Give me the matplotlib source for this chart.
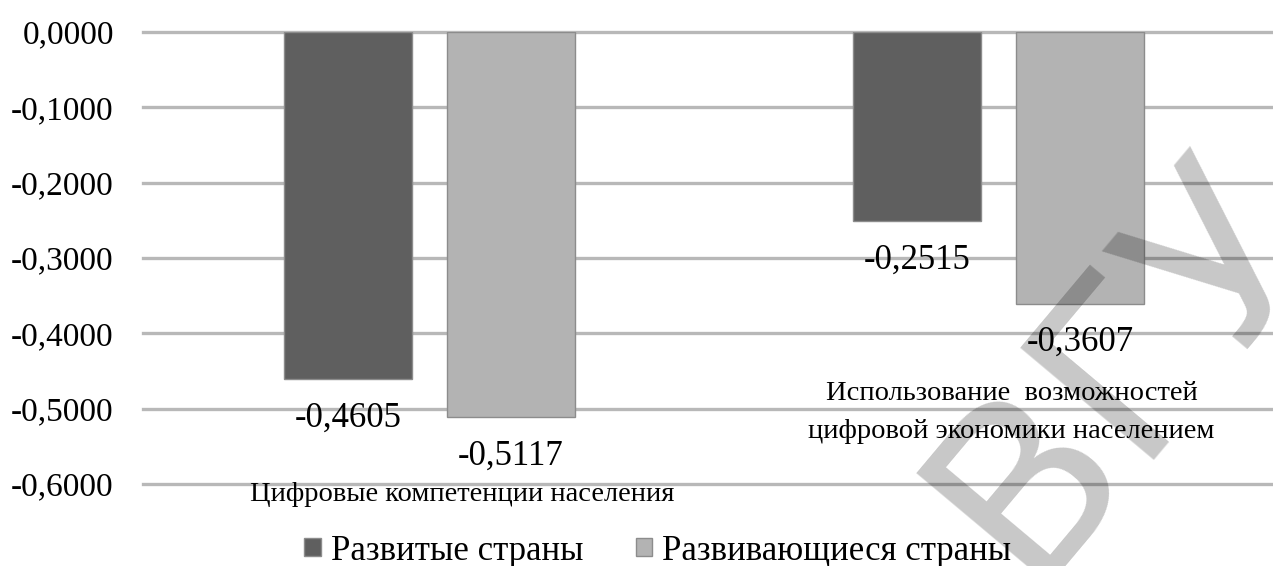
import matplotlib.pyplot as plt
import matplotlib.patches as mpatches
import numpy as np

# data
categories = ["Цифровые компетенции населения",
              "Использование  возможностей\nцифровой экономики населением"]
series_names = ["Развитые страны", "Развивающиеся страны"]
developed = [-0.4605, -0.2515]
developing = [-0.5117, -0.3607]
yticks = [0.0, -0.1, -0.2, -0.3, -0.4, -0.5, -0.6]

colors = ["#5f5f5f", "#b3b3b3"]
serif = ["Liberation Serif", "DejaVu Serif"]


def fmt(v):
    s = f"{v:.4f}".replace(".", ",")
    return "0,0000" if s == "-0,0000" else s


W, H = 1273, 566
fig = plt.figure(figsize=(W / 100, H / 100), dpi=100)
ax = fig.add_axes([143 / W, 1 - 484 / H, 1 - 143 / W, (484 - 32) / H])

x = np.arange(len(categories))
width = 0.225
off = 0.143
for vals, dx, c in [(developed, -off, colors[0]), (developing, off, colors[1])]:
    ax.bar(x + dx, vals, width, color=c, edgecolor="#8c8c8c", linewidth=1.0, zorder=2)
    for xi, v in zip(x + dx, vals):
        ax.annotate(fmt(v), (xi, v), xytext=(0, -28), textcoords="offset points",
                    ha="center", va="center", fontsize=25, family=serif, zorder=3)

ax.set_xlim(-0.5035, 1.4825)
ax.set_ylim(-0.6, 0.0)
ax.set_yticks(yticks)
ax.set_yticklabels([fmt(t) for t in yticks], fontsize=24, family=serif)
ax.tick_params(axis="y", length=0, pad=21)
ax.set_xticks([])
for s in ax.spines.values():
    s.set_visible(False)
for t in yticks:
    ax.axhline(t, color="#b8b8b8", lw=2.4, zorder=1, clip_on=False)

# category labels (placed by hand in the original chart)
ax.text(0.057, -0.6146, categories[0], ha="center", va="center", fontsize=20.5,
        family=serif, clip_on=False)
ax.text(1.0228, -0.5051, categories[1], ha="center", va="center", fontsize=20.5,
        family=serif, linespacing=1.65, clip_on=False)

handles = [mpatches.Patch(facecolor=c, edgecolor="#8c8c8c", label=n)
           for c, n in zip(colors, series_names)]
fig.legend(handles=handles, loc="center", bbox_to_anchor=(658 / W, 15 / H), ncol=2,
           frameon=False, prop={"family": serif, "size": 25}, handlelength=0.47,
           handleheight=0.45, handletextpad=0.3, columnspacing=1.5,
           borderaxespad=0, borderpad=0)

# watermark of the scanned source
fig.text(1026 / W, 1 - 585 / H, "ВГУ", fontsize=172, color="black", alpha=0.22,
         rotation=50, rotation_mode="anchor", ha="left", va="baseline",
         family="DejaVu Sans", zorder=10)

fig.savefig("out.png", dpi=100)
